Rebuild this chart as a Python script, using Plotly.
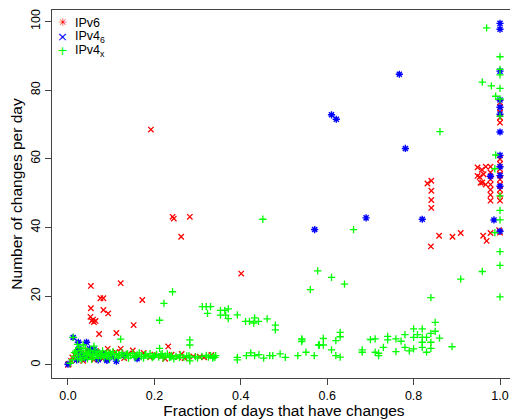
import plotly.graph_objects as go

# IPv6 (red)
ipv6_x = [0.192, 0.242, 0.245, 0.282, 0.262, 0.401,
          0.053, 0.122, 0.075, 0.082, 0.053, 0.082, 0.093, 0.052, 0.055, 0.060, 0.058, 0.064,
          0.172, 0.152, 0.072, 0.112, 0.232,
          0.832, 0.841, 0.841, 0.841, 0.841, 0.859, 0.890, 0.909, 0.840, 0.961, 0.969, 0.978, 0.998,
          0.948, 0.948, 0.953, 0.955, 0.959, 0.962, 0.967, 0.967, 0.958,
          0.978, 0.978, 0.978, 0.978, 0.978, 0.978, 0.978,
          1.0, 1.0, 1.0, 1.0, 1.0, 1.0, 1.0, 1.0, 1.0, 1.0, 1.0, 1.0, 1.0, 1.0, 1.0,
          0.000, 0.002, 0.007, 0.010, 0.015, 0.020, 0.025, 0.030, 0.035, 0.040, 0.045, 0.050,
          0.055, 0.060, 0.065, 0.070, 0.080, 0.085, 0.092, 0.100, 0.110, 0.122, 0.130, 0.140,
          0.150, 0.160, 0.175, 0.190, 0.200, 0.215, 0.225, 0.240, 0.255, 0.263, 0.270, 0.290,
          0.305, 0.315, 0.332]
ipv6_y = [68.5, 43.1, 42.6, 43.1, 37.3, 26.6,
          23.0, 23.8, 19.4, 19.4, 16.5, 16.0, 15.0, 14.0, 12.8, 12.5, 13.2, 12.8,
          18.9, 11.6, 9.0, 9.3, 5.4,
          52.8, 53.6, 50.7, 48.0, 45.7, 37.6, 37.3, 38.4, 34.5, 37.6, 36.1, 38.4, 39.2,
          57.5, 55.0, 54.7, 53.0, 53.1, 55.5, 57.7, 52.5, 56.8,
          57.7, 56.0, 54.0, 52.5, 51.0, 49.5, 47.8,
          76.4, 75.0, 73.5, 72.0, 70.5, 59.9, 58.5, 57.0, 55.5, 54.0, 52.5, 51.0, 49.5, 47.8, 38.5,
          0.0, 0.3, 1.2, 2.2, 3.0, 1.5, 3.8, 2.5, 1.2, 3.2, 4.5, 2.0,
          3.5, 1.5, 4.0, 2.8, 1.8, 3.6, 4.7, 2.5, 3.8, 4.7, 2.0, 3.3,
          4.2, 2.6, 3.5, 2.2, 3.0, 2.5, 1.8, 3.0, 2.3, 3.2, 2.0, 2.5,
          2.4, 2.2, 2.9]

# IPv4_6 (blue)
ipv46_x = [0.610, 0.621, 0.571, 0.690, 0.767, 0.781, 0.820,
           1.0, 1.0, 1.0, 1.0, 1.0, 1.0, 1.0, 1.0, 1.0, 1.0, 1.0, 1.0, 0.986, 0.978,
           0.012, 0.024, 0.043, 0.025, 0.050, 0.055, 0.060, 0.065, 0.030, 0.040, 0.070,
           0.090, 0.112, 0.080, 0.100, 0.130, 0.160, 0.020, 0.000]
ipv46_y = [72.8, 71.5, 39.4, 42.8, 84.6, 63.0, 42.4,
           99.4, 97.7, 85.5, 77.1, 75.0, 73.0, 67.8, 61.0, 57.7, 55.1, 52.0, 38.9, 42.2, 54.9,
           8.0, 6.6, 6.6, 4.7, 4.7, 4.3, 4.5, 3.6, 3.0, 2.0, 1.5,
           1.3, 1.1, 3.2, 2.4, 2.8, 1.8, 1.5, 0.2]

# IPv4_x (green)
ipv4x_x = [0.969, 1.0, 1.0, 1.0, 0.959, 0.980, 1.0, 0.990, 1.0, 1.0, 0.861, 0.990, 0.988,
           1.0, 1.0, 1.0, 0.988, 1.0, 1.0, 0.959, 0.909, 0.840, 1.0,
           0.451, 0.661, 0.578, 0.610, 0.561, 0.640,
           0.242, 0.222, 0.212, 0.311, 0.320, 0.330, 0.323, 0.353, 0.363, 0.371, 0.353, 0.365,
           0.371, 0.392, 0.411, 0.420, 0.432, 0.430, 0.441, 0.461, 0.480, 0.480,
           0.282, 0.282, 0.541, 0.541, 0.580, 0.122,
           0.850, 0.850, 0.840, 0.800, 0.820, 0.800, 0.809, 0.820, 0.830, 0.860, 0.780, 0.820,
           0.840, 0.840, 0.820, 0.830, 0.889, 0.800, 0.790, 0.780, 0.740, 0.740, 0.759, 0.771,
           0.700, 0.711, 0.730, 0.711, 0.719, 0.719, 0.759, 0.681, 0.681, 0.630, 0.630, 0.620,
           0.591, 0.582, 0.591, 0.542, 0.610, 0.551, 0.570, 0.620, 0.630,
           0.280, 0.330, 0.342, 0.392, 0.392, 0.413, 0.423, 0.432, 0.442, 0.453, 0.467, 0.474,
           0.491, 0.503, 0.532, 0.336, 0.282, 0.282,
           0.005, 0.010, 0.012, 0.015, 0.018, 0.020, 0.022, 0.025, 0.028, 0.030, 0.032, 0.035,
           0.038, 0.040, 0.042, 0.045, 0.048, 0.050, 0.052, 0.055, 0.058, 0.060, 0.063, 0.066,
           0.070, 0.073, 0.076, 0.080, 0.083, 0.086, 0.090, 0.093, 0.096, 0.100, 0.104, 0.108,
           0.112, 0.116, 0.120, 0.125, 0.130, 0.135, 0.140, 0.145, 0.150, 0.155, 0.160, 0.165,
           0.170, 0.175, 0.180, 0.185, 0.190, 0.195, 0.200, 0.205, 0.210, 0.215, 0.220, 0.225,
           0.230, 0.235, 0.240, 0.245, 0.250, 0.260, 0.268, 0.275, 0.295, 0.310, 0.320, 0.325,
           0.212, 0.060, 0.035, 0.022, 0.300, 0.340, 0.335,
           0.015, 0.028, 0.044, 0.057, 0.068, 0.078, 0.088, 0.098, 0.118, 0.138, 0.158, 0.178,
           0.198, 0.218, 0.238, 0.258]
ipv4x_y = [98.1, 89.7, 86.0, 84.4, 82.3, 81.2, 80.5, 78.2, 77.4, 72.4, 67.9, 61.1, 57.1,
           49.2, 45.0, 42.2, 38.5, 33.0, 29.0, 27.2, 25.0, 19.6, 19.8,
           42.4, 39.4, 27.4, 25.5, 21.9, 23.5,
           21.3, 17.9, 13.0, 17.0, 17.0, 17.0, 15.0, 15.9, 15.9, 16.3, 14.5, 14.5,
           13.5, 14.6, 12.7, 12.7, 13.7, 12.2, 12.7, 13.4, 11.6, 10.2,
           7.3, 5.8, 7.6, 6.8, 5.8, 7.5,
           12.4, 9.8, 9.2, 10.5, 10.5, 8.0, 8.8, 8.0, 8.0, 7.8, 8.8, 6.6,
           6.6, 4.8, 5.1, 3.7, 5.3, 4.7, 4.1, 5.1, 8.3, 7.3, 7.6, 6.9,
           7.4, 7.6, 5.1, 3.7, 3.4, 2.7, 3.9, 4.4, 3.7, 9.5, 8.2, 7.1,
           7.7, 5.8, 5.8, 7.3, 4.4, 3.7, 2.7, 2.7, 2.3,
           2.7, 2.7, 2.7, 2.2, 1.5, 2.7, 3.5, 2.7, 3.0, 2.0, 2.7, 2.7,
           3.2, 2.2, 2.7, 2.4, 2.2, 1.2,
           0.5, 1.5, 8.0, 2.5, 4.0, 3.2, 1.8, 5.0, 2.8, 4.2, 1.5, 3.5,
           2.2, 4.8, 3.0, 1.8, 3.8, 2.6, 4.3, 1.6, 3.2, 2.3, 4.0, 2.9,
           1.9, 3.5, 2.5, 4.1, 2.1, 3.0, 2.4, 3.6, 1.8, 2.9, 3.9, 2.3,
           3.3, 2.0, 2.8, 3.6, 2.4, 3.1, 2.0, 2.7, 3.4, 2.2, 2.9, 3.5,
           2.4, 2.0, 3.0, 2.5, 3.3, 2.1, 2.7, 3.1, 2.3, 2.9, 2.0, 2.6,
           3.2, 2.2, 2.8, 1.8, 2.5, 2.9, 2.2, 2.6, 2.4, 2.5, 2.8, 2.3,
           4.8, 5.5, 5.8, 6.0, 2.0, 2.2, 2.0,
           3.6, 2.0, 3.4, 3.0, 3.8, 2.9, 3.3, 3.4, 3.0, 3.2, 2.6, 3.0,
           2.4, 3.3, 2.3, 2.1]

x_ticks = [0.0, 0.2, 0.4, 0.6, 0.8, 1.0]
y_ticks = [0, 20, 40, 60, 80, 100]

legend_names = ['IPv6', 'IPv4<sub>6</sub>', 'IPv4<sub>x</sub>']
legend_symbols = ['✳', '×', '+']

RED = '#ff0000'
BLUE = '#0000ff'
GREEN = '#00ff00'
legend_colors = [RED, BLUE, GREEN]

fig = go.Figure()

fig.add_trace(go.Scatter(
    x=ipv6_x, y=ipv6_y, mode='markers', name='IPv6', showlegend=False,
    marker=dict(symbol='x-thin-open', size=5.4, color=RED, line=dict(color=RED, width=1.3))
))
fig.add_trace(go.Scatter(
    x=ipv46_x, y=ipv46_y, mode='markers', name='IPv4_6', showlegend=False,
    marker=dict(symbol='asterisk-open', size=6, color=BLUE, line=dict(color=BLUE, width=1.4))
))
fig.add_trace(go.Scatter(
    x=ipv4x_x, y=ipv4x_y, mode='markers', name='IPv4_x', showlegend=False,
    marker=dict(symbol='cross-thin-open', size=5.2, color=GREEN, line=dict(color=GREEN, width=1.3))
))

# legend drawn by hand: the original's key uses other symbols than the points
# and rows are tighter than plotly's legend allows
row_y = [0.965, 0.927, 0.889]
for name, sym, col, yy in zip(legend_names, legend_symbols, legend_colors, row_y):
    fig.add_annotation(x=0.022, y=yy, xref='paper', yref='paper', text=sym,
                       showarrow=False, xanchor='center', yanchor='middle',
                       font=dict(size=11 if sym == '✳' else 13, color=col,
                                 family='DejaVu Sans'))
    fig.add_annotation(x=0.046, y=yy, xref='paper', yref='paper', text=name,
                       showarrow=False, xanchor='left', yanchor='middle',
                       font=dict(size=12.5, color='black'))

axis_style = dict(
    showgrid=False, zeroline=False, showline=True, mirror=True,
    linecolor='#444444', linewidth=1,
    ticks='outside', ticklen=6, tickcolor='#444444',
    tickfont=dict(size=12.5, color='black'),
)

# page body has an 8px margin, so the figure is 8px smaller than the window
fig.update_layout(
    width=510,
    height=411,
    margin=dict(l=44, r=1, t=2, b=39),
    plot_bgcolor='white',
    paper_bgcolor='white',
    showlegend=False,
    font=dict(family='Liberation Sans, Arial, sans-serif', color='black'),
    xaxis=dict(
        range=[-0.037, 1.037], tickvals=x_ticks, tickformat='.1f',
        title=dict(text='Fraction of days that have changes', font=dict(size=15.5), standoff=4),
        **axis_style
    ),
    yaxis=dict(
        range=[-3.8, 103.3], tickvals=y_ticks, tickangle=-90,
        title=dict(text='Number of changes per day', font=dict(size=15.5), standoff=4),
        **axis_style
    ),
)

fig.write_html("out.html")
